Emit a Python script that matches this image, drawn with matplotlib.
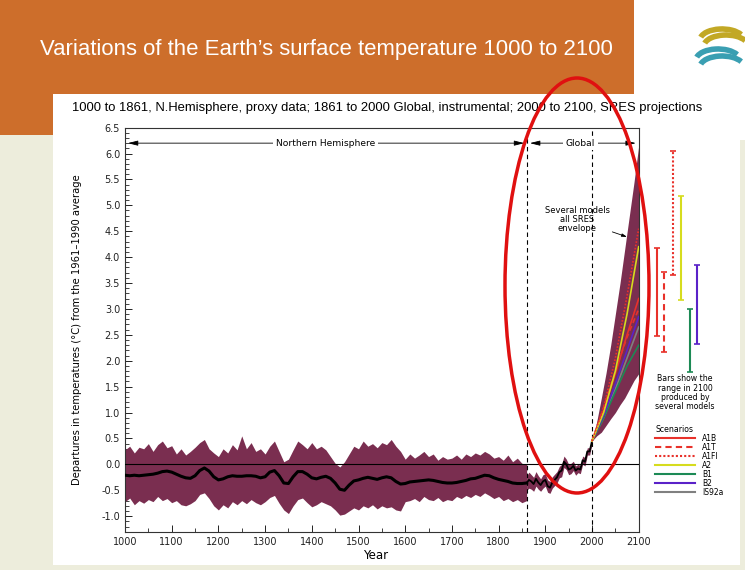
import matplotlib
matplotlib.use("Agg")
import matplotlib.pyplot as plt
from matplotlib.patches import Rectangle, Ellipse, Arc
from matplotlib.lines import Line2D
from matplotlib.ticker import MultipleLocator, FormatStrFormatter

# proxy reconstruction, 1000-1860 every 10 years
proxy_years = list(range(1000, 1870, 10))
proxy_mean = [
    -0.21, -0.22, -0.21, -0.22, -0.21, -0.20, -0.19, -0.17, -0.14, -0.13,
    -0.15, -0.19, -0.23, -0.26, -0.27, -0.22, -0.12, -0.07, -0.13, -0.24,
    -0.30, -0.28, -0.24, -0.22, -0.23, -0.23, -0.22, -0.22, -0.23, -0.26,
    -0.24, -0.15, -0.12, -0.22, -0.36, -0.37, -0.24, -0.14, -0.14, -0.19,
    -0.26, -0.28, -0.25, -0.23, -0.27, -0.36, -0.48, -0.50, -0.40, -0.32,
    -0.30, -0.27, -0.25, -0.27, -0.29, -0.26, -0.24, -0.26, -0.33, -0.38,
    -0.37, -0.34, -0.33, -0.32, -0.31, -0.30, -0.31, -0.33, -0.35, -0.36,
    -0.36, -0.35, -0.33, -0.31, -0.28, -0.27, -0.24, -0.21, -0.22, -0.26,
    -0.29, -0.31, -0.33, -0.36, -0.37, -0.37, -0.36]
proxy_upper = [
    0.28, 0.35, 0.22, 0.33, 0.30, 0.40, 0.25, 0.38, 0.45, 0.32,
    0.36, 0.20, 0.30, 0.18, 0.25, 0.33, 0.42, 0.48, 0.30, 0.22,
    0.15, 0.30, 0.22, 0.38, 0.28, 0.55, 0.30, 0.42, 0.25, 0.30,
    0.20, 0.35, 0.45, 0.25, 0.05, 0.10, 0.28, 0.45, 0.38, 0.30,
    0.42, 0.30, 0.35, 0.28, 0.15, 0.02, -0.05, 0.05, 0.20, 0.35,
    0.30, 0.45, 0.35, 0.40, 0.32, 0.42, 0.38, 0.48, 0.35, 0.25,
    0.10, 0.20, 0.12, 0.18, 0.25, 0.15, 0.20, 0.08, 0.15, 0.10,
    0.12, 0.18, 0.10, 0.20, 0.15, 0.22, 0.18, 0.25, 0.20, 0.12,
    0.15, 0.08, 0.18, 0.05, 0.12, 0.02, 0.00]
proxy_lower = [
    -0.72, -0.65, -0.78, -0.70, -0.75, -0.68, -0.72, -0.62, -0.70, -0.66,
    -0.74, -0.70, -0.78, -0.80, -0.76, -0.70, -0.58, -0.55, -0.66, -0.80,
    -0.88, -0.78, -0.84, -0.72, -0.78, -0.70, -0.76, -0.68, -0.74, -0.78,
    -0.72, -0.64, -0.60, -0.75, -0.88, -0.95, -0.80, -0.68, -0.65, -0.74,
    -0.82, -0.78, -0.72, -0.76, -0.80, -0.88, -0.98, -0.96, -0.90, -0.84,
    -0.88, -0.80, -0.84, -0.78, -0.86, -0.80, -0.84, -0.82, -0.88, -0.90,
    -0.72, -0.70, -0.66, -0.72, -0.62, -0.68, -0.70, -0.64, -0.72, -0.68,
    -0.70, -0.62, -0.66, -0.60, -0.64, -0.58, -0.62, -0.55, -0.60, -0.66,
    -0.62, -0.70, -0.66, -0.72, -0.68, -0.74, -0.70]

# instrumental record 1860-2000
inst_years = list(range(1860, 2005, 5))
inst_temp = [-0.36, -0.30, -0.33, -0.38, -0.28, -0.35, -0.40, -0.33, -0.30, -0.42,
             -0.45, -0.35, -0.30, -0.25, -0.15, -0.12, 0.05, 0.00, -0.10, -0.08,
             -0.03, -0.12, -0.08, -0.10, 0.08, 0.05, 0.25, 0.25, 0.45]
inst_upper = [-0.22, -0.15, -0.20, -0.25, -0.14, -0.22, -0.28, -0.20, -0.18, -0.30,
              -0.33, -0.24, -0.19, -0.14, -0.04, 0.00, 0.16, 0.10, 0.00, 0.02,
              0.06, -0.03, 0.00, -0.02, 0.16, 0.13, 0.32, 0.32, 0.50]
inst_lower = [-0.50, -0.46, -0.48, -0.52, -0.42, -0.48, -0.52, -0.46, -0.42, -0.54,
              -0.56, -0.46, -0.41, -0.36, -0.26, -0.24, -0.06, -0.10, -0.20, -0.18,
              -0.12, -0.21, -0.16, -0.18, 0.00, -0.03, 0.18, 0.18, 0.40]

# SRES projections 2000-2100
env_years = list(range(2000, 2110, 10))
env_upper = [0.45, 0.82, 1.28, 1.76, 2.30, 2.90, 3.50, 4.15, 4.80, 5.45, 6.15]
env_lower = [0.45, 0.55, 0.62, 0.75, 0.88, 1.00, 1.15, 1.28, 1.45, 1.62, 1.75]

scen_years = [2000, 2025, 2050, 2075, 2100]
scenarios = ["A1B", "A1T", "A1FI", "A2", "B1", "B2", "IS92a"]
scen_values = {
    "A1FI": [0.45, 1.10, 2.05, 3.25, 4.55],
    "A2": [0.45, 1.00, 1.80, 2.90, 4.20],
    "A1B": [0.45, 1.05, 1.75, 2.50, 3.20],
    "A1T": [0.45, 1.10, 1.80, 2.45, 3.00],
    "B2": [0.45, 0.95, 1.55, 2.20, 2.85],
    "IS92a": [0.45, 0.90, 1.45, 2.05, 2.65],
    "B1": [0.45, 0.90, 1.40, 1.90, 2.30],
}
scen_color = {"A1B": "#e8312a", "A1T": "#e8312a", "A1FI": "#e8312a", "A2": "#d6dc1e",
              "B1": "#1c8a55", "B2": "#5a22c8", "IS92a": "#808080"}
scen_style = {"A1B": "-", "A1T": (0, (3, 2)), "A1FI": (0, (1, 1)), "A2": "-",
              "B1": "-", "B2": "-", "IS92a": "-"}

# range in 2100 for each scenario (bars to the right)
bar_names = ["A1B", "A1T", "A1FI", "A2", "B1", "B2"]
bar_low = [2.48, 2.16, 3.65, 3.17, 1.79, 2.32]
bar_high = [4.18, 3.72, 6.05, 5.18, 2.99, 3.85]
bar_pos = [2139, 2154, 2173, 2190, 2210, 2225]

W, H = 745, 570
band = "#7a2e50"

fig = plt.figure(figsize=(W / 100, H / 100), dpi=100)
fig.patch.set_facecolor("#ededdc")


def box(x0, y0, x1, y1, color):
    fig.add_artist(Rectangle((x0 / W, 1 - y1 / H), (x1 - x0) / W, (y1 - y0) / H,
                             transform=fig.transFigure, color=color, lw=0, zorder=0))


box(0, 0, 634, 94, "#cd6e2b")
box(0, 94, 53, 135, "#cd6e2b")
box(634, 0, 745, 140, "white")
box(53, 94, 740, 565, "white")

# logo
for cx, cy, c in [(722, 40, "#c2a825"), (726, 46, "#c2a825"), (718, 60, "#3a9fb2"), (722, 67, "#3a9fb2")]:
    fig.add_artist(Arc((cx / W, 1 - cy / H), 44 / W, 22 / H, theta1=20, theta2=170,
                       transform=fig.transFigure, color=c, lw=4, zorder=1))

fig.text(40 / W, 1 - 49 / H, "Variations of the Earth\u2019s surface temperature 1000 to 2100",
         color="white", fontsize=15.9, va="center", family="Liberation Sans")
fig.text(72 / W, 1 - 108 / H,
         "1000 to 1861, N.Hemisphere, proxy data; 1861 to 2000 Global, instrumental; 2000 to 2100, SRES projections",
         fontsize=9.4, va="center", family="Liberation Sans")

ax = fig.add_axes([125 / W, 38.3 / H, 513.7 / W, 404.1 / H])
ax.set_xlim(1000, 2100)
ax.set_ylim(-1.3, 6.5)

ax.fill_between(proxy_years, proxy_lower, proxy_upper, color=band, lw=0, zorder=2)
ax.fill_between(inst_years, inst_lower, inst_upper, color=band, lw=0, zorder=2)
ax.fill_between(env_years, env_lower, env_upper, color=band, lw=0, zorder=2)
ax.axhline(0, color="black", lw=0.8, zorder=3)
ax.plot(proxy_years, proxy_mean, color="black", lw=2.2, zorder=4)
ax.plot(inst_years, inst_temp, color="black", lw=1.3, zorder=4)

for name in ["IS92a", "B1", "B2", "A1T", "A1B", "A2", "A1FI"]:
    ax.plot(scen_years, scen_values[name], color=scen_color[name], ls=scen_style[name], lw=1.2, zorder=5)

for x in (1861, 2000):
    ax.axvline(x, color="black", lw=0.8, ls=(0, (4, 3)), zorder=3)

# period arrows
ax.annotate("", xy=(1000, 6.2), xytext=(1861, 6.2),
            arrowprops=dict(arrowstyle="<|-|>,head_length=0.6,head_width=0.15", color="black", lw=0.6))
ax.annotate("", xy=(1861, 6.2), xytext=(2100, 6.2),
            arrowprops=dict(arrowstyle="<|-|>,head_length=0.6,head_width=0.15", color="black", lw=0.6))
bb = dict(facecolor="white", edgecolor="none", pad=2)
ax.text(1430, 6.2, "Northern Hemisphere", fontsize=6.6, ha="center", va="center", bbox=bb, zorder=6)
ax.text(1975, 6.2, "Global", fontsize=6.6, ha="center", va="center", bbox=bb, zorder=6)

ax.annotate("Several models\nall SRES\nenvelope", xy=(2075, 4.39), xytext=(1968, 4.72),
            fontsize=6, ha="center", va="center", linespacing=1.0,
            arrowprops=dict(arrowstyle="-|>,head_length=0.5,head_width=0.15", color="black", lw=0.6,
                            shrinkA=20, shrinkB=0))

# range bars
for name, x, lo, hi in zip(bar_names, bar_pos, bar_low, bar_high):
    ax.vlines(x, lo, hi, color=scen_color[name], ls=scen_style[name], lw=1.5, clip_on=False)
    ax.hlines([lo, hi], x - 6, x + 6, color=scen_color[name], lw=1.2, clip_on=False)
ax.text(2199, 1.38, "Bars show the\nrange in 2100\nproduced by\nseveral models",
        fontsize=5.6, ha="center", va="center", linespacing=1.05)

handles = [Line2D([], [], color=scen_color[n], ls=scen_style[n], lw=1.5) for n in scenarios]
leg = ax.legend(handles, scenarios, title="Scenarios", loc="upper left",
                bbox_to_anchor=(655 / W, 1 - 425 / H), bbox_transform=fig.transFigure,
                frameon=False, fontsize=5.5, title_fontsize=5.6, handlelength=5.2,
                labelspacing=0.0, handletextpad=1.0, borderpad=0, borderaxespad=0,
                alignment="left")

ax.xaxis.set_major_locator(MultipleLocator(100))
ax.xaxis.set_minor_locator(MultipleLocator(50))
ax.yaxis.set_major_locator(MultipleLocator(0.5))
ax.yaxis.set_minor_locator(MultipleLocator(0.1))
ax.yaxis.set_major_formatter(FormatStrFormatter("%.1f"))
ax.tick_params(which="both", direction="in", labelsize=7, colors="#222222")
ax.tick_params(which="major", length=5, width=0.7)
ax.tick_params(which="minor", length=3, width=0.6)
for s in ax.spines.values():
    s.set_linewidth(0.8)
    s.set_color("#333333")

ax.set_ylabel("Departures in temperatures (\u00b0C) from the 1961\u20131990 average", fontsize=7.2)
ax.yaxis.set_label_coords(-0.084, 0.5)
ax.set_xlabel("Year", fontsize=8.5)
ax.xaxis.set_label_coords(0.487, -0.043)

# red highlight ring
fig.add_artist(Ellipse((577 / W, 1 - 285.5 / H), 144 / W, 415 / H, transform=fig.transFigure,
                       fill=False, edgecolor="#e01010", lw=2.5, zorder=10))

fig.savefig("out.png", dpi=100, facecolor=fig.get_facecolor())
